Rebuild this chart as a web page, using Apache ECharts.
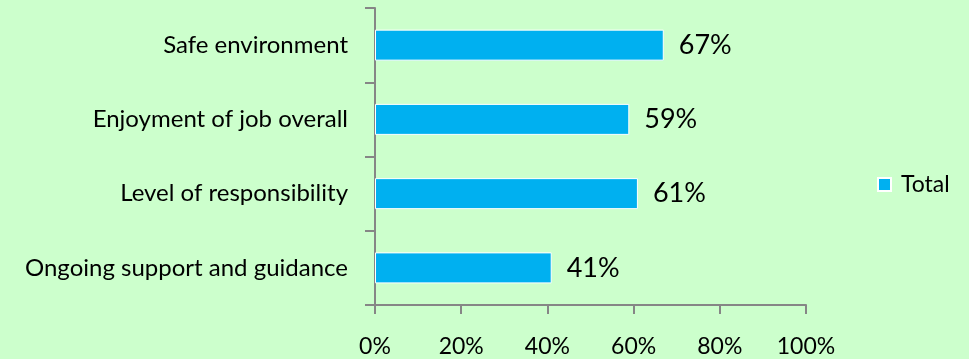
<!DOCTYPE html>
<html>
<head>
<meta charset="utf-8">
<script src="https://cdn.jsdelivr.net/npm/echarts@6/dist/echarts.min.js"></script>
<style>
  html, body { margin: 0; padding: 0; background: #ccffcc; }
  #chart { width: 969px; height: 359px; }
</style>
</head>
<body>
<div id="chart"></div>
<script>
// Survey results: share of respondents per aspect
const categories = ['Safe environment', 'Enjoyment of job overall', 'Level of responsibility', 'Ongoing support and guidance'];
const totalValues = [67, 59, 61, 41];
const seriesName = 'Total';

const axisGray = '#868686';
const fontFamily = 'Lato, "Open Sans", sans-serif';

const chart = echarts.init(document.getElementById('chart'), null, { renderer: 'canvas' });
chart.setOption({
  backgroundColor: '#ccffcc',
  animation: false,
  textStyle: { fontFamily: fontFamily, color: '#000' },
  grid: { left: 375, top: 8, width: 431, height: 297, containLabel: false },
  legend: {
    data: [seriesName],
    left: 872,
    top: 168,
    itemWidth: 13,
    itemHeight: 13,
    icon: 'rect',
    textStyle: { fontSize: 23, fontFamily: fontFamily, color: '#000', padding: [0, 0, 0, 5] }
  },
  xAxis: {
    type: 'value',
    min: 0,
    max: 100,
    interval: 20,
    axisLine: { show: true, lineStyle: { color: axisGray, width: 2 } },
    axisTick: { show: true, length: 9, lineStyle: { color: axisGray, width: 2 } },
    splitLine: { show: false },
    axisLabel: { formatter: '{value}%', fontSize: 23, margin: 30, color: '#000', fontFamily: fontFamily }
  },
  yAxis: {
    type: 'category',
    data: categories,
    inverse: true,
    axisLine: { show: true, lineStyle: { color: axisGray, width: 2 } },
    axisTick: { show: true, length: 10, lineStyle: { color: axisGray, width: 2 } },
    axisLabel: { fontSize: 24, margin: 27, color: '#000', fontFamily: fontFamily }
  },
  series: [{
    name: seriesName,
    type: 'bar',
    data: totalValues,
    barWidth: 31,
    itemStyle: { color: '#00b0f0', borderColor: '#ffffff', borderWidth: 1 },
    label: {
      show: true,
      position: 'right',
      distance: 15,
      formatter: '{c}%',
      fontSize: 27,
      color: '#000',
      fontFamily: fontFamily
    }
  }]
});
</script>
</body>
</html>
